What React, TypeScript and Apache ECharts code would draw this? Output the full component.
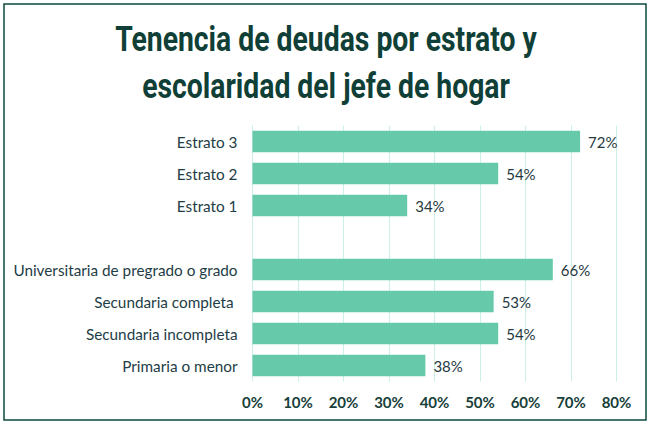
import React, { useEffect, useRef } from "react";
import * as echarts from "echarts";

const titleLines = ["Tenencia de deudas por estrato y", "escolaridad del jefe de hogar"];
const categories = [
  "Primaria o menor",
  "Secundaria incompleta",
  "Secundaria completa ",
  "Universitaria de pregrado o grado",
  "",
  "Estrato 1",
  "Estrato 2",
  "Estrato 3",
];
const values: (number | null)[] = [38, 54, 53, 66, null, 34, 54, 72];
const axisMin = 0;
const axisMax = 80;
const axisStep = 10;

export default function App() {
  const ref = useRef<HTMLDivElement>(null);
  useEffect(() => {
    if (!ref.current) return;
    const chart = echarts.init(ref.current, undefined, { renderer: "svg" });
    const titleFont = "Roboto, 'DejaVu Sans', sans-serif";
    chart.setOption({
      animation: false,
      backgroundColor: "#ffffff",
      grid: { left: 252.5, right: 35.5, top: 125.5, height: 256, containLabel: false },
      xAxis: {
        type: "value",
        min: axisMin,
        max: axisMax,
        interval: axisStep,
        axisLine: { show: false },
        axisTick: { show: false },
        splitLine: { show: true, lineStyle: { color: "#CDEFEA", width: 1 } },
        axisLabel: {
          formatter: "{value}%",
          fontFamily: "Lato, sans-serif",
          fontWeight: "bold",
          fontSize: 15,
          color: "#17403A",
          margin: 13,
        },
      },
      yAxis: {
        type: "category",
        data: categories,
        axisLine: { show: false },
        axisTick: { show: false },
        splitLine: { show: false },
        axisLabel: {
          fontFamily: "Lato, sans-serif",
          fontSize: 15.3,
          color: "#1E3D46",
          margin: 15,
        },
      },
      series: [
        {
          type: "bar",
          data: values,
          barWidth: 21.5,
          itemStyle: { color: "#66CAAA" },
          label: {
            show: true,
            position: "right",
            distance: 8,
            formatter: (p: any) => (p.value == null ? "" : p.value + "%"),
            fontFamily: "Lato, sans-serif",
            fontSize: 15,
            color: "#26393F",
          },
        },
      ],
      graphic: [
        {
          type: "rect",
          shape: { x: 4, y: 4, width: 642, height: 416 },
          style: { fill: "none", stroke: "#0C4A40", lineWidth: 1.5 },
          silent: true,
        },
        {
          type: "text",
          x: 326,
          y: 21,
          scaleX: 0.81,
          style: {
            text: titleLines[0],
            font: `bold 35px ${titleFont}`,
            fill: "#0F3F36",
            textAlign: "center",
            textVerticalAlign: "top",
          },
        },
        {
          type: "text",
          x: 326,
          y: 68,
          scaleX: 0.81,
          style: {
            text: titleLines[1],
            font: `bold 35px ${titleFont}`,
            fill: "#0F3F36",
            textAlign: "center",
            textVerticalAlign: "top",
          },
        },
      ],
    });
    return () => chart.dispose();
  }, []);
  return (
    <div
      ref={ref}
      style={{ position: "absolute", left: 0, top: 0, width: 652, height: 424 }}
    />
  );
}
